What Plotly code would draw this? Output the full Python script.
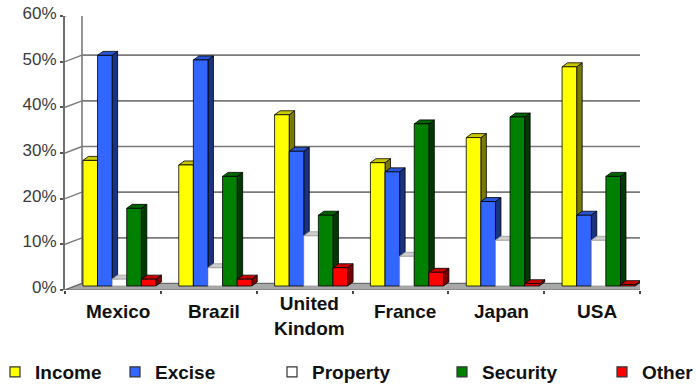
import plotly.graph_objects as go

# ---- data -------------------------------------------------------------
countries = ["Mexico", "Brazil", "United<br>Kindom", "France", "Japan", "USA"]
series_names = ["Income", "Excise", "Property", "Security", "Other"]
income = [27.5, 26.5, 37.5, 27.0, 32.5, 48.0]
excise = [50.5, 49.5, 29.5, 25.0, 18.5, 15.5]
property_tax = [1.5, 4.0, 11.0, 6.5, 10.0, 10.0]
security = [17.0, 24.0, 15.5, 35.5, 37.0, 24.0]
other = [1.5, 1.5, 4.0, 3.0, 0.5, 0.3]
y_ticks = [0, 10, 20, 30, 40, 50, 60]
y_tick_labels = [f"{v}%" for v in y_ticks]

series_values = [income, excise, property_tax, security, other]

# ---- styling ----------------------------------------------------------
# (front, top, side, edge) colours per series
face_colors = [
    ("#FFFF00", "#C8C800", "#7A7A00", "#000000"),
    ("#3366FF", "#2A55D4", "#1A3380", "#000000"),
    ("#FFFFFF", "#CFCFCF", "#A0A0A0", "#9A9A9A"),
    ("#008000", "#006400", "#003A00", "#000000"),
    ("#FF0000", "#C80000", "#7A0000", "#000000"),
]

FONT = "Liberation Sans, Arial, sans-serif"
W_FIG, H_FIG = 696, 386
M_L, M_R, M_T, M_B = 65, 56, 16, 96
PLOT_W = W_FIG - M_L - M_R
PLOT_H = H_FIG - M_T - M_B
N = len(countries)
Y_MAX = 60

XU = PLOT_W / N        # pixels per category unit
YU = PLOT_H / Y_MAX    # pixels per percent


def px_x(p):
    return p / XU


def px_y(p):
    return p / YU


# depth of walls and bars (oblique projection)
WALL_DX, WALL_DY = px_x(17), px_y(6.5)
BAR_FX, BAR_FY = px_x(6.5), px_y(4)
BAR_DX, BAR_DY = px_x(5.5), px_y(4)
BAR_W = px_x(14.6)
GAP = 1 - len(series_names) * BAR_W

GRID = "#7a7a7a"

fig = go.Figure()

# ---- walls, floor and gridlines -------------------------------------
shapes = []
for v in y_ticks:
    # back wall gridline
    shapes.append(dict(type="line", xref="x", yref="y", layer="below",
                       x0=WALL_DX, x1=N + WALL_DX, y0=v + WALL_DY, y1=v + WALL_DY,
                       line=dict(color=GRID, width=1.6)))
    # side wall diagonal
    shapes.append(dict(type="line", xref="x", yref="y", layer="below",
                       x0=0, x1=WALL_DX, y0=v, y1=v + WALL_DY,
                       line=dict(color=GRID, width=1.4)))
# back wall verticals
for xv in (WALL_DX, N + WALL_DX):
    shapes.append(dict(type="line", xref="x", yref="y", layer="below",
                       x0=xv, x1=xv, y0=WALL_DY, y1=Y_MAX + WALL_DY,
                       line=dict(color=GRID, width=1.6)))
# floor
floor_path = (f"M 0,0 L {WALL_DX},{WALL_DY} L {N + WALL_DX},{WALL_DY} "
              f"L {N},0 Z")
shapes.append(dict(type="path", xref="x", yref="y", layer="below",
                   path=floor_path, fillcolor="#a8a8a8",
                   line=dict(color="#6a6a6a", width=1.2)))

# ---- 3D columns -------------------------------------------------------
for j, (name, vals) in enumerate(zip(series_names, series_values)):
    front_c, top_c, side_c, edge_c = face_colors[j]
    fx, fy, tx, ty, sx, sy = [], [], [], [], [], []
    for k, v in enumerate(vals):
        left = k + GAP / 2 + j * BAR_W + BAR_FX
        right = left + BAR_W
        b = BAR_FY
        t = BAR_FY + v
        fx += [left, right, right, left, left, None]
        fy += [b, b, t, t, b, None]
        tx += [left, right, right + BAR_DX, left + BAR_DX, left, None]
        ty += [t, t, t + BAR_DY, t + BAR_DY, t, None]
        sx += [right, right + BAR_DX, right + BAR_DX, right, right, None]
        sy += [b, b + BAR_DY, t + BAR_DY, t, b, None]
    for xs, ys, col in ((sx, sy, side_c), (tx, ty, top_c), (fx, fy, front_c)):
        fig.add_trace(go.Scatter(
            x=xs, y=ys, mode="lines", fill="toself", fillcolor=col,
            line=dict(color=edge_c, width=0.8), hoverinfo="skip",
            showlegend=False))

# ---- legend (one legend per entry, spaced along the bottom) ------------
legend_text_px = [33, 153, 310, 480, 640]
legend_y = (M_T + PLOT_H - 372) / PLOT_H
legend_layouts = {}
for j, name in enumerate(series_names):
    front_c, _, _, _ = face_colors[j]
    key = "legend" if j == 0 else f"legend{j + 1}"
    fig.add_trace(go.Scatter(
        x=[None], y=[None], mode="markers", name=name, legend=key,
        marker=dict(symbol="square", size=10, color=front_c,
                    line=dict(color="#333333", width=1.2))))
    left_px = legend_text_px[j] - 40 + 2
    legend_layouts[key] = dict(
        x=(left_px - M_L) / PLOT_W, xanchor="left",
        y=legend_y, yanchor="middle", bgcolor="rgba(0,0,0,0)",
        font=dict(family=FONT, size=19, color="#111111", weight="bold"),
        borderwidth=0, tracegroupgap=0)

# ---- category labels --------------------------------------------------
annotations = []
for k, c in enumerate(countries):
    annotations.append(dict(
        x=k + 0.5 + px_x(5), xref="x",
        y=(M_T + PLOT_H - (316 if "<br>" in c else 311)) / PLOT_H, yref="paper",
        text=f"<b>{c}</b>", showarrow=False, xanchor="center", yanchor="middle",
        font=dict(family=FONT, size=19, color="#111111")))

fig.update_layout(
    width=W_FIG, height=H_FIG,
    margin=dict(l=M_L, r=M_R, t=M_T, b=M_B, autoexpand=False),
    paper_bgcolor="white", plot_bgcolor="white",
    shapes=shapes, annotations=annotations,
    xaxis=dict(range=[0, N], tickvals=list(range(N + 1)), showticklabels=False,
               ticks="outside", ticklen=3, tickwidth=1.5, tickcolor="#444444",
               showgrid=False, zeroline=False, showline=False, fixedrange=True),
    yaxis=dict(range=[0, Y_MAX], tickvals=y_ticks, ticktext=y_tick_labels,
               ticks="outside", ticklen=3, tickwidth=1.5, tickcolor="#555555",
               showline=True, linecolor="#6e6e6e", linewidth=2,
               showgrid=False, zeroline=False, ticklabelshift=-3,
               tickfont=dict(family=FONT, size=17, color="#3a3a3a"),
               fixedrange=True),
    **legend_layouts,
)

fig.write_html("out.html")
